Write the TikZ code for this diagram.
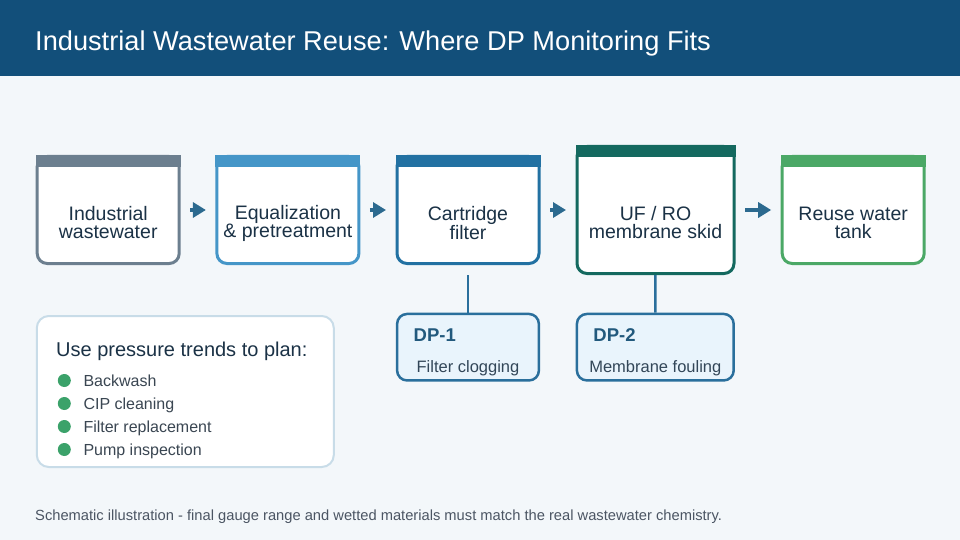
\documentclass[tikz,border=0pt]{standalone}
\usepackage{fontspec}
\setmainfont{Liberation Sans}
\usepackage{xcolor}
\usepackage{tikz}
\usetikzlibrary{arrows.meta}

\definecolor{bgpage}{HTML}{F3F7FA}
\definecolor{bghead}{HTML}{124F7A}
\definecolor{cgray}{HTML}{6C7F8F}
\definecolor{clight}{HTML}{4596C8}
\definecolor{cblue}{HTML}{2271A2}
\definecolor{cteal}{HTML}{14695F}
\definecolor{cgreen}{HTML}{4BA866}
\definecolor{cflow}{HTML}{2C6A8F}
\definecolor{cdp}{HTML}{2A6F9C}
\definecolor{dpfill}{HTML}{E9F4FC}
\definecolor{ctext}{HTML}{1B3246}
\definecolor{citem}{HTML}{3A4652}
\definecolor{cnote}{HTML}{4B5563}
\definecolor{cframe}{HTML}{C8DCE8}
\definecolor{cdot}{HTML}{3BA26A}

\begin{document}
\begin{tikzpicture}[
  x=1pt, y=-1pt,
  stage/.style={draw=#1, line width=3pt, fill=white, rounded corners=10pt,
                minimum width=142pt, minimum height=107pt, inner sep=0pt},
  stagetxt/.style={align=center, text=ctext, inner sep=0pt,
                   font=\fontsize{19.5}{18}\selectfont},
  flow/.style={draw=cflow, line width=4.5pt,
               -{Triangle[length=13pt, width=15pt]},
               shorten <=9.5pt, shorten >=9.5pt},
  dpbox/.style={draw=cdp, line width=2.5pt, fill=dpfill, rounded corners=10pt,
                minimum width=141.8pt, minimum height=66.5pt, inner sep=0pt},
  dptag/.style={anchor=base west, text=cdp!80!black, inner sep=0pt,
                font=\fontsize{18.5}{20}\selectfont\bfseries},
  dpnote/.style={anchor=base, text=ctext!90, inner sep=0pt,
                 font=\fontsize{16.5}{18}\selectfont},
  dpline/.style={draw=cdp, line width=2.5pt},
  item/.style={anchor=base west, text=citem, inner sep=0pt,
               font=\fontsize{16}{18}\selectfont},
]
  % Page and header band
  \useasboundingbox (0,0) rectangle (960,540);
  \fill[bgpage] (0,0) rectangle (960,540);
  \fill[bghead] (0,0) rectangle (960,76.5);
  \node[anchor=base west, text=white, inner sep=0pt,
        font=\fontsize{27.2}{30}\selectfont] (title) at (35,51)
    {Industrial Wastewater Reuse: Where DP Monitoring Fits};

  % Process chain, all centred at y=210
  \node[stage=cgray]  (ind)  at (108.2,210) {};
  \node[stage=clight] (equ)  at (287.9,210) {};
  \node[stage=cblue]  (cart) at (468,210)   {};
  \node[stage=cteal, minimum width=157pt, minimum height=127pt] (uf) at (655.5,210) {};
  \node[stage=cgreen] (tank) at (853.2,210) {};

  % Coloured top bars
  \foreach \n/\c in {ind/cgray, equ/clight, cart/cblue, uf/cteal, tank/cgreen}
    \fill[\c] (\n.north west) rectangle ([yshift=-12pt]\n.north east);

  % Stage labels
  \node[stagetxt] at ([yshift=-13pt]ind.center)  {Industrial\\wastewater};
  \node[stagetxt] at ([yshift=-13pt]equ.center)  {Equalization\\\& pretreatment};
  \node[stagetxt] at ([yshift=-13pt]cart.center) {Cartridge\\filter};
  \node[stagetxt] at ([yshift=-13pt]uf.center)   {UF / RO\\membrane skid};
  \node[stagetxt] at ([yshift=-13pt]tank.center) {Reuse water\\tank};

  % Flow arrows
  \foreach \a/\b in {ind/equ, equ/cart, cart/uf, uf/tank}
    \draw[flow] (\a) -- (\b);

  % DP gauges below filter and skid
  \node[dpbox] (dp1) at (468,347.2) {};
  \node[dpbox, minimum width=156.8pt] (dp2) at (655.3,347.2) {};
  \draw[dpline, shorten >=10pt] (dp1) -- (cart);
  \draw[dpline] (dp2) -- (uf);
  \node[dptag] at ([xshift=17.6pt, yshift=-28.3pt]dp1.north west) {DP-1};
  \node[dptag] at ([xshift=17.6pt, yshift=-28.3pt]dp2.north west) {DP-2};
  \node[dpnote] at ([yshift=-59.6pt]dp1.north) {Filter clogging};
  \node[dpnote] at ([yshift=-59.6pt]dp2.north) {Membrane fouling};

  % Maintenance panel
  \node[draw=cframe, line width=2pt, fill=white, rounded corners=12pt,
        minimum width=297pt, minimum height=151pt] (plan) at (185.3,391.5) {};
  \node[anchor=base west, text=ctext, inner sep=0pt,
        font=\fontsize{20}{22}\selectfont] (plantitle) at (56,356)
    {Use pressure trends to plan:};
  \foreach \t [count=\i from 0] in {Backwash, CIP cleaning,
                                    Filter replacement, Pump inspection} {
    \fill[cdot] (64.3,380.5+23*\i) circle (6.5pt);
    \node[item] at (83.3,386+23*\i) {\t};
  }

  % Footnote
  \node[anchor=base west, text=cnote, inner sep=0pt,
        font=\fontsize{14.7}{16}\selectfont] (note) at (35,520)
    {Schematic illustration - final gauge range and wetted materials must match the real wastewater chemistry.};
\end{tikzpicture}
\end{document}
